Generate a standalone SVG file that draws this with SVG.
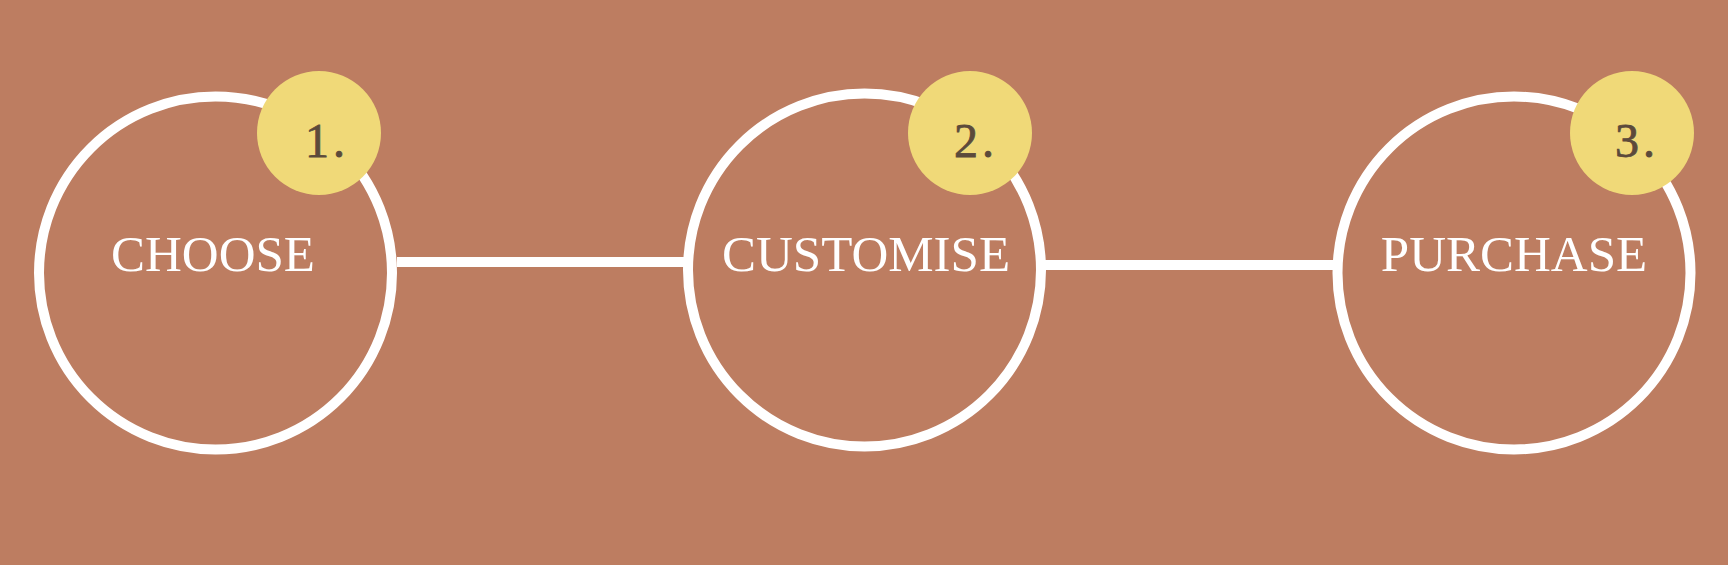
<svg xmlns="http://www.w3.org/2000/svg" width="1728" height="565" viewBox="0 0 1728 565">
<style>
.ring{fill:none;stroke:#FFFFFF;stroke-width:10}
.badge{fill:#F0D978}
.label{font-family:"Liberation Serif","Times New Roman",serif;font-size:51px;fill:#FFFFFF;text-anchor:middle}
.num{font-family:"Liberation Serif","Times New Roman",serif;font-size:48px;fill:#5C4A3B;text-anchor:middle;letter-spacing:4px;stroke:#5C4A3B;stroke-width:0.8}
.conn{stroke:#FFFFFF;stroke-width:10;fill:none}
</style>
<rect x="0" y="0" width="1728" height="565" fill="#BD7D61"/>
<g id="connectors">
<line class="conn" x1="397" y1="262" x2="684" y2="262"/>
<line class="conn" x1="1045" y1="265" x2="1334" y2="265"/>
</g>
<g id="node-choose">
<circle class="ring" cx="215.5" cy="273" r="176.5"/>
<text class="label" x="213" y="271">CHOOSE</text>
<circle class="badge" cx="319" cy="133" r="62"/>
<text class="num" x="327" y="157">1.</text>
</g>
<g id="node-customise">
<circle class="ring" cx="864.5" cy="270" r="176.5"/>
<text class="label" x="866" y="271">CUSTOMISE</text>
<circle class="badge" cx="970" cy="133" r="62"/>
<text class="num" x="976" y="157">2.</text>
</g>
<g id="node-purchase">
<circle class="ring" cx="1514" cy="273" r="176.5"/>
<text class="label" x="1514" y="271">PURCHASE</text>
<circle class="badge" cx="1632" cy="133" r="62"/>
<text class="num" x="1637" y="157">3.</text>
</g>
</svg>
